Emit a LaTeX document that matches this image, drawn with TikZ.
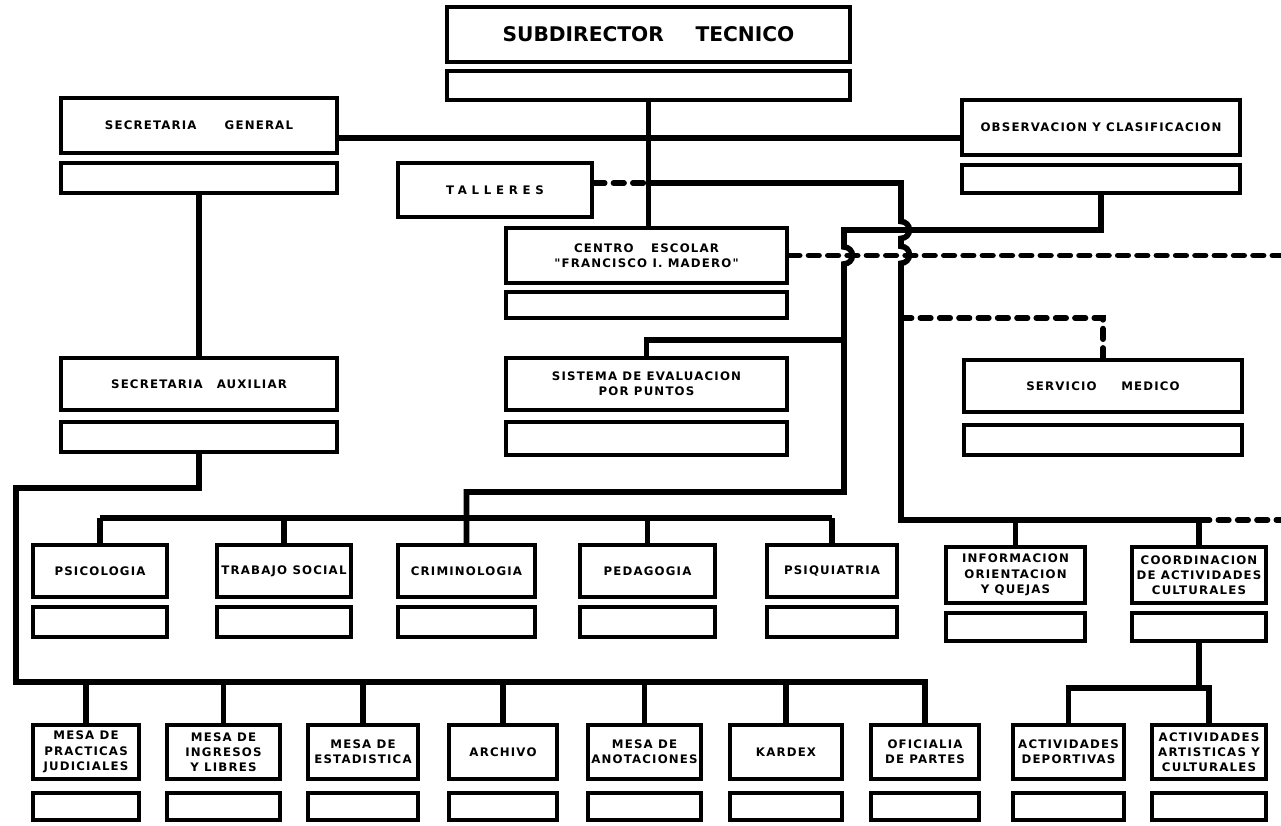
\documentclass[tikz,border=0pt]{standalone}
\usepackage{fontspec}
\setmainfont{DejaVu Sans}
\newfontfamily\orgfont{DejaVu Sans}[LetterSpace=10]

\begin{document}
\begin{tikzpicture}[x=0.02cm,y=-0.02cm,
  box/.style={draw,line width=2.5pt,inner sep=0pt,align=center,
    font=\orgfont\bfseries\fontsize{6.7}{8.7}\selectfont},
  blank/.style={draw,line width=2.5pt,inner sep=0pt},
  link/.style={line width=3.2pt},
  dlink/.style={line width=3.2pt,dash pattern=on 6pt off 5pt,line cap=round},
  hop/.style={start angle=90,end angle=-90,radius=4.8pt}]
  \useasboundingbox[fill=white] (0,0) rectangle (1281,825);

  \node[box,minimum width=8.06cm,minimum height=1.1cm,font=\bfseries\fontsize{11.5}{13}\selectfont] (sub) at (648.5,34.5) {SUBDIRECTOR\hspace{18pt}TECNICO};
  \node[blank,minimum width=8.06cm,minimum height=0.58cm] (subb) at (648.5,85.5) {};
  \node[box,minimum width=5.52cm,minimum height=1.1cm] (sg) at (199,125.5) {SECRETARIA\hspace{16pt}GENERAL};
  \node[blank,minimum width=5.52cm,minimum height=0.6cm] (sgb) at (199,178) {};
  \node[box,minimum width=5.56cm,minimum height=1.1cm] (obs) at (1101,127.5) {OBSERVACION Y CLASIFICACION};
  \node[blank,minimum width=5.56cm,minimum height=0.56cm] (obsb) at (1101,179) {};
  \node[box,minimum width=3.88cm,minimum height=1.08cm] (tal) at (495,190) {\addfontfeature{LetterSpace=40}TALLERES};
  \node[box,minimum width=5.62cm,minimum height=1.1cm] (cen) at (646.5,255.5) {CENTRO\hspace{10pt}ESCOLAR\\"FRANCISCO I. MADERO"};
  \node[blank,minimum width=5.62cm,minimum height=0.52cm] (cenb) at (646.5,305) {};
  \node[box,minimum width=5.62cm,minimum height=1.04cm] (sis) at (646.5,384) {SISTEMA DE EVALUACION\\POR PUNTOS};
  \node[blank,minimum width=5.62cm,minimum height=0.66cm] (sisb) at (646.5,438.5) {};
  \node[box,minimum width=5.52cm,minimum height=1.04cm] (sa) at (199,384) {SECRETARIA\hspace{8pt}AUXILIAR};
  \node[blank,minimum width=5.52cm,minimum height=0.6cm] (sab) at (199,437) {};
  \node[box,minimum width=5.56cm,minimum height=1.04cm] (srv) at (1103,386) {SERVICIO\hspace{14pt}MEDICO};
  \node[blank,minimum width=5.56cm,minimum height=0.6cm] (srvb) at (1103,440) {};

  \node[box,minimum width=2.68cm,minimum height=1.04cm] (psi) at (100,571) {PSICOLOGIA};
  \node[box,minimum width=2.68cm,minimum height=1.04cm] (tra) at (284,571) {TRABAJO SOCIAL};
  \node[box,minimum width=2.74cm,minimum height=1.04cm] (cri) at (466.5,571) {CRIMINOLOGIA};
  \node[box,minimum width=2.7cm,minimum height=1.04cm] (ped) at (647.5,571) {PEDAGOGIA};
  \node[box,minimum width=2.6cm,minimum height=1.04cm] (pq) at (832,571) {PSIQUIATRIA};
  \node[box,minimum width=2.78cm,minimum height=1.12cm] (inf) at (1015.5,575) {INFORMACION\\ORIENTACION\\Y QUEJAS};
  \node[box,minimum width=2.68cm,minimum height=1.12cm] (coo) at (1199,575) {COORDINACION\\DE ACTIVIDADES\\CULTURALES};
  \node[blank,minimum width=2.68cm,minimum height=0.6cm] (psib) at (100,622) {};
  \node[blank,minimum width=2.68cm,minimum height=0.6cm] (trab) at (284,622) {};
  \node[blank,minimum width=2.74cm,minimum height=0.6cm] (crib) at (466.5,622) {};
  \node[blank,minimum width=2.7cm,minimum height=0.6cm] (pedb) at (647.5,622) {};
  \node[blank,minimum width=2.6cm,minimum height=0.6cm] (pqb) at (832,622) {};
  \node[blank,minimum width=2.78cm,minimum height=0.56cm] (infb) at (1015.5,627) {};
  \node[blank,minimum width=2.68cm,minimum height=0.56cm] (coob) at (1199,627) {};

  \node[box,minimum width=2.12cm,minimum height=1.08cm] (mpj) at (86,752) {MESA DE\\PRACTICAS\\JUDICIALES};
  \node[box,minimum width=2.26cm,minimum height=1.08cm] (min) at (223.5,752) {MESA DE\\INGRESOS\\Y LIBRES};
  \node[box,minimum width=2.2cm,minimum height=1.08cm] (mes) at (363,752) {MESA DE\\ESTADISTICA};
  \node[box,minimum width=2.16cm,minimum height=1.08cm] (arch) at (503,752) {ARCHIVO};
  \node[box,minimum width=2.26cm,minimum height=1.08cm] (man) at (644.5,752) {MESA DE\\ANOTACIONES};
  \node[box,minimum width=2.24cm,minimum height=1.08cm] (kar) at (786,752) {KARDEX};
  \node[box,minimum width=2.16cm,minimum height=1.08cm] (ofi) at (925,752) {OFICIALIA\\DE PARTES};
  \node[box,minimum width=2.22cm,minimum height=1.08cm] (dep) at (1068.5,752) {ACTIVIDADES\\DEPORTIVAS};
  \node[box,minimum width=2.28cm,minimum height=1.08cm] (art) at (1209,752) {ACTIVIDADES\\ARTISTICAS Y\\CULTURALES};
  \node[blank,minimum width=2.12cm,minimum height=0.54cm] (mpjb) at (86,806.5) {};
  \node[blank,minimum width=2.26cm,minimum height=0.54cm] (minb) at (223.5,806.5) {};
  \node[blank,minimum width=2.2cm,minimum height=0.54cm] (mesb) at (363,806.5) {};
  \node[blank,minimum width=2.16cm,minimum height=0.54cm] (archb) at (503,806.5) {};
  \node[blank,minimum width=2.26cm,minimum height=0.54cm] (manb) at (644.5,806.5) {};
  \node[blank,minimum width=2.24cm,minimum height=0.54cm] (karb) at (786,806.5) {};
  \node[blank,minimum width=2.16cm,minimum height=0.54cm] (ofib) at (925,806.5) {};
  \node[blank,minimum width=2.22cm,minimum height=0.54cm] (depb) at (1068.5,806.5) {};
  \node[blank,minimum width=2.28cm,minimum height=0.54cm] (artb) at (1209,806.5) {};

  \coordinate (hl) at (0,138);
  \coordinate (tj) at (901,183);
  \coordinate (oj) at (844,230);
  \coordinate (sisbar) at (0,340);
  \coordinate (srvbar) at (0,318);
  \coordinate (cribar) at (0,492);
  \coordinate (sabar) at (16,488);
  \coordinate (midbar) at (0,518);
  \coordinate (rbar) at (0,520);
  \coordinate (botbar) at (16,682);
  \coordinate (actbar) at (0,688);

  \draw[link] (sg.east |- hl) -- (obs.west |- hl);
  \draw[link] (subb.south) -- (subb.south |- cen.north);
  \draw[dlink] (tal.east |- tj) -- (subb.south |- tj);
  \draw[link] (subb.south |- tj) -- (tj) -- ++(0,38.5) arc[hop] -- ++(0,8) arc[hop] -- (tj |- rbar) -- (coo.north |- rbar);
  \draw[dlink] (coo.north |- rbar) -- (1281,520);
  \draw[dlink] (cen.east) -- (1281,255.5);
  \draw[link] (obsb.south) -- (obsb.south |- oj) -- (oj) -- ++(0,17) arc[hop] -- (oj |- cribar) -- (cri.north |- cribar) -- (cri.north);
  \draw[link] (sis.north) -- (sis.north |- sisbar) -- (oj |- sisbar);
  \draw[dlink] (tj |- srvbar) -- (srv.north |- srvbar) -- (srv.north);
  \draw[link] (sgb.south) -- (sa.north);
  \draw[link] (sab.south) -- (sab.south |- sabar) -- (sabar) -- (botbar) -- (ofi.north |- botbar) -- (ofi.north);
  \draw[link] (psi.north |- midbar) -- (pq.north |- midbar);
  \foreach \n in {psi,tra,ped,pq}
    \draw[link] (\n.north) -- (\n.north |- midbar);
  \foreach \n in {inf,coo}
    \draw[link] (\n.north) -- (\n.north |- rbar);
  \foreach \n in {mpj,min,mes,arch,man,kar}
    \draw[link] (\n.north) -- (\n.north |- botbar);
  \draw[link] (coob.south) -- (coob.south |- actbar);
  \draw[link] (dep.north) -- (dep.north |- actbar) -- (art.north |- actbar) -- (art.north);
\end{tikzpicture}
\end{document}
